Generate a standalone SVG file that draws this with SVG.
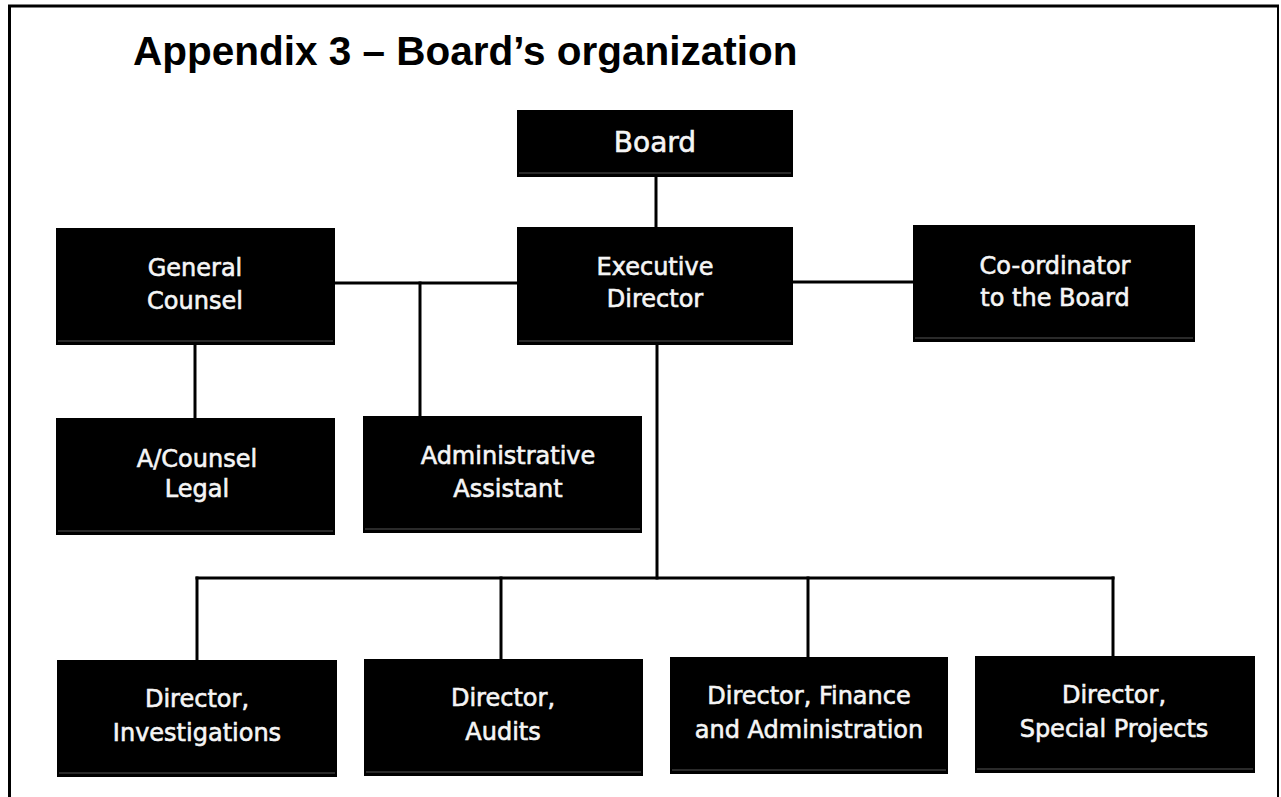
<svg xmlns="http://www.w3.org/2000/svg" width="1281" height="797" viewBox="0 0 1281 797">
  <style>
    .box { fill: #000; }
    .edge { fill: #2a2a2a; }
    .lbl { font-family: "DejaVu Sans", "Liberation Sans", sans-serif; font-size: 24px; fill: #f5f5f5; stroke: #f5f5f5; stroke-width: 0.6; text-anchor: middle; }
    .big { font-size: 28px; }
    .title { font-family: "Liberation Sans", Arial, sans-serif; font-weight: bold; font-size: 40.5px; fill: #000; }
    .wire { stroke: #000; stroke-width: 3; fill: none; stroke-linecap: square; }
    .frame { stroke: #000; fill: none; }
  </style>

  <rect x="0" y="0" width="1281" height="797" fill="#fff"/>

  <!-- page frame -->
  <g id="frame">
    <line class="frame" x1="9.5" y1="5" x2="9.5" y2="797" stroke-width="3"/>
    <line class="frame" x1="8" y1="6" x2="1279" y2="6" stroke-width="3"/>
    <line class="frame" x1="1278" y1="6" x2="1278" y2="797" stroke-width="2"/>
  </g>

  <text class="title" x="133" y="65">Appendix 3 – Board’s organization</text>

  <!-- reporting lines -->
  <g id="connectors">
    <line class="wire" x1="656" y1="177" x2="656" y2="227"/>
    <line class="wire" x1="335" y1="283" x2="517" y2="283"/>
    <line class="wire" x1="793" y1="282" x2="913" y2="282"/>
    <line class="wire" x1="195" y1="345" x2="195" y2="418"/>
    <line class="wire" x1="420" y1="283" x2="420" y2="416"/>
    <line class="wire" x1="657" y1="345" x2="657" y2="578"/>
    <line class="wire" x1="197" y1="578" x2="1113" y2="578"/>
    <line class="wire" x1="197" y1="578" x2="197" y2="660"/>
    <line class="wire" x1="501" y1="578" x2="501" y2="659"/>
    <line class="wire" x1="808" y1="578" x2="808" y2="657"/>
    <line class="wire" x1="1113" y1="578" x2="1113" y2="656"/>
  </g>

  <g id="board">
    <rect class="box" x="517" y="110" width="276" height="67"/>
    <rect class="edge" x="519" y="172" width="272" height="2"/>
    <text class="lbl big" x="655" y="152">Board</text>
  </g>

  <g id="executive-director">
    <rect class="box" x="517" y="227" width="276" height="118"/>
    <rect class="edge" x="519" y="340" width="272" height="2"/>
    <text class="lbl" x="655" y="275">Executive</text>
    <text class="lbl" x="655" y="307">Director</text>
  </g>

  <g id="general-counsel">
    <rect class="box" x="56" y="228" width="279" height="117"/>
    <rect class="edge" x="58" y="340" width="275" height="2"/>
    <text class="lbl" x="195" y="276">General</text>
    <text class="lbl" x="195" y="309">Counsel</text>
  </g>

  <g id="coordinator">
    <rect class="box" x="913" y="225" width="282" height="117"/>
    <rect class="edge" x="915" y="337" width="278" height="2"/>
    <text class="lbl" x="1055" y="274">Co-ordinator</text>
    <text class="lbl" x="1055" y="306">to the Board</text>
  </g>

  <g id="a-counsel-legal">
    <rect class="box" x="56" y="418" width="279" height="117"/>
    <rect class="edge" x="58" y="530" width="275" height="2"/>
    <text class="lbl" x="197" y="467">A/Counsel</text>
    <text class="lbl" x="197" y="497">Legal</text>
  </g>

  <g id="administrative-assistant">
    <rect class="box" x="363" y="416" width="279" height="117"/>
    <rect class="edge" x="365" y="528" width="275" height="2"/>
    <text class="lbl" x="508" y="464">Administrative</text>
    <text class="lbl" x="508" y="497">Assistant</text>
  </g>

  <g id="director-investigations">
    <rect class="box" x="57" y="660" width="280" height="117"/>
    <rect class="edge" x="59" y="772" width="276" height="2"/>
    <text class="lbl" x="197" y="707">Director,</text>
    <text class="lbl" x="197" y="741">Investigations</text>
  </g>

  <g id="director-audits">
    <rect class="box" x="364" y="659" width="279" height="117"/>
    <rect class="edge" x="366" y="771" width="275" height="2"/>
    <text class="lbl" x="503" y="706">Director,</text>
    <text class="lbl" x="503" y="740">Audits</text>
  </g>

  <g id="director-finance">
    <rect class="box" x="670" y="657" width="278" height="117"/>
    <rect class="edge" x="672" y="769" width="274" height="2"/>
    <text class="lbl" x="809" y="704">Director, Finance</text>
    <text class="lbl" x="809" y="738">and Administration</text>
  </g>

  <g id="director-special-projects">
    <rect class="box" x="975" y="656" width="280" height="117"/>
    <rect class="edge" x="977" y="768" width="276" height="2"/>
    <text class="lbl" x="1114" y="703">Director,</text>
    <text class="lbl" x="1114" y="737">Special Projects</text>
  </g>
</svg>
